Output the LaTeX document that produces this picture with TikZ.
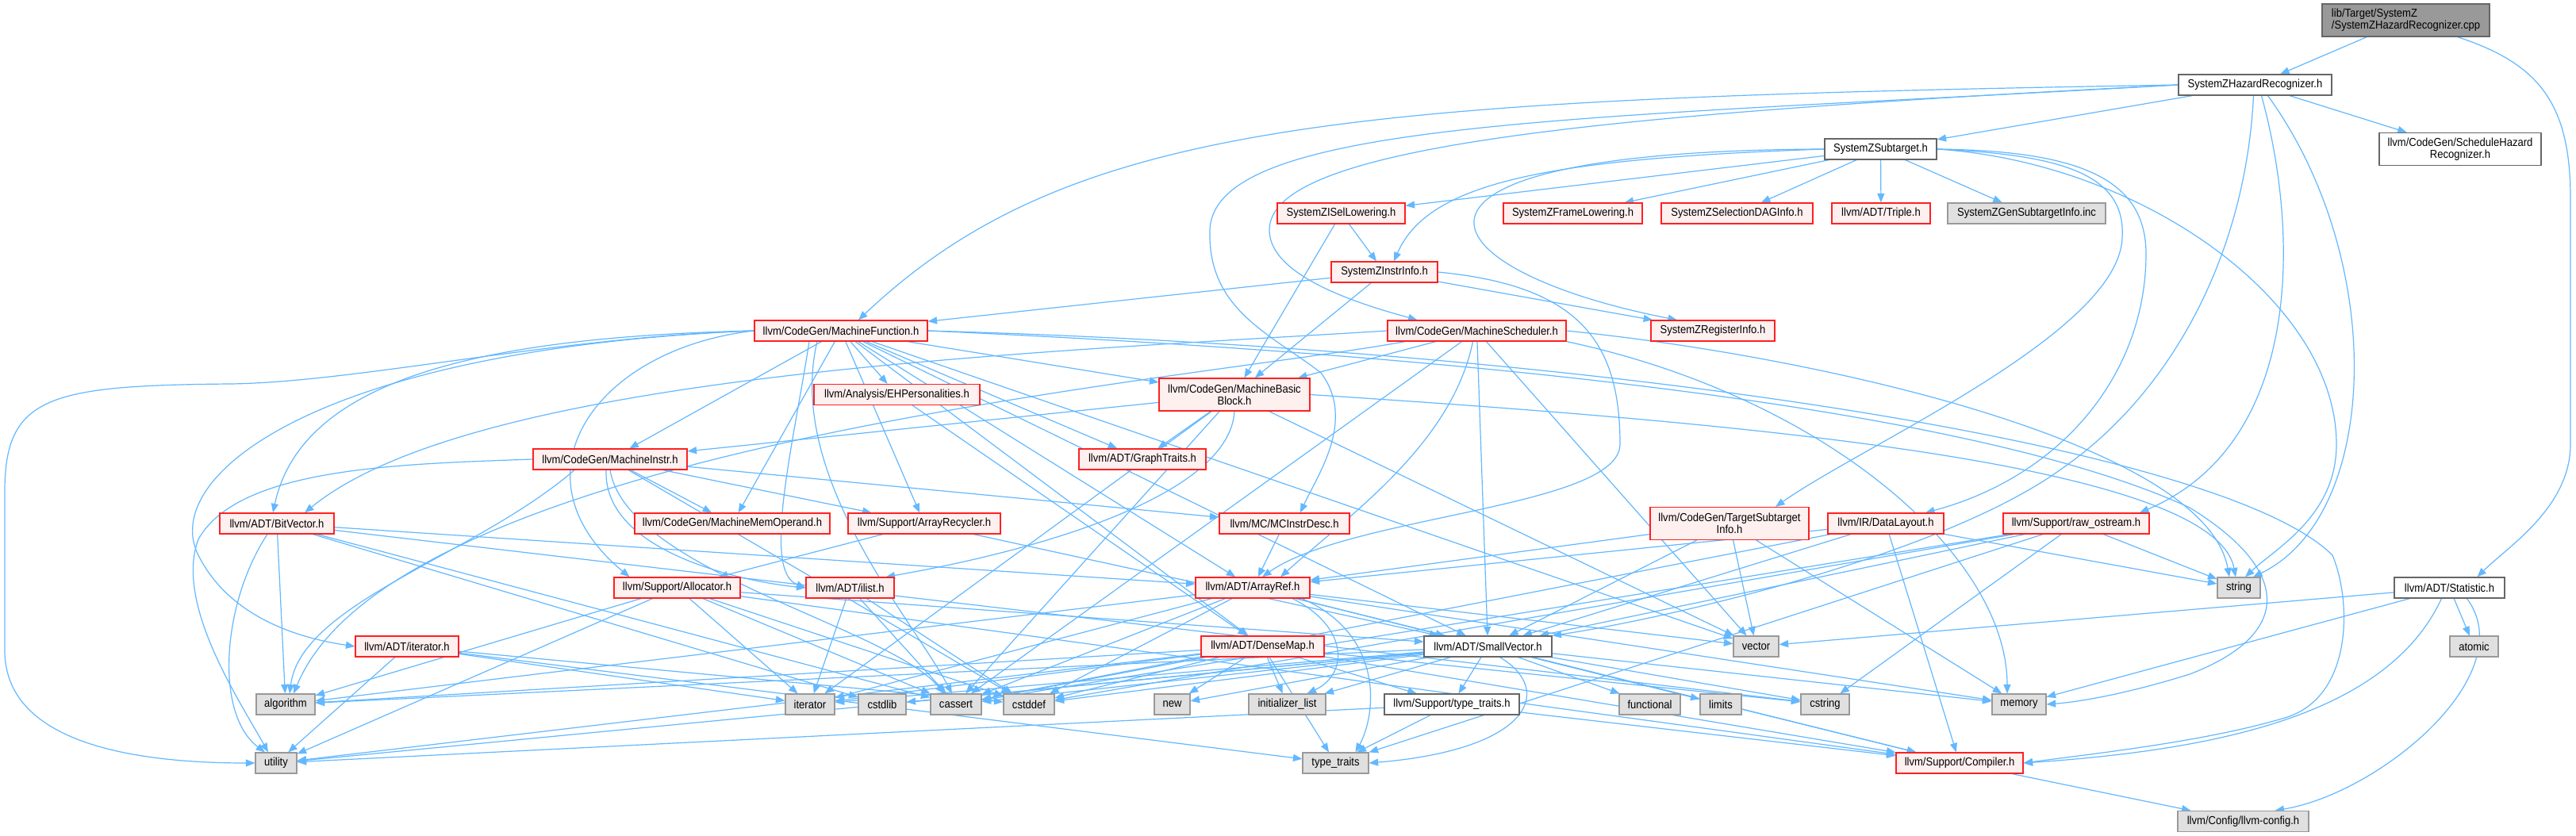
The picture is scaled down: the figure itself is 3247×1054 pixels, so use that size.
\documentclass[tikz,border=0pt]{standalone}
\usepackage{fontspec}
\setmainfont{Liberation Sans}[FakeStretch=0.9]
\usetikzlibrary{arrows.meta}
\pgfdeclarelayer{bg}
\pgfdeclarelayer{edges}
\pgfsetlayers{bg,edges,main}
\definecolor{edgec}{HTML}{63B8FF}
\definecolor{redfill}{HTML}{FFF0F0}
\definecolor{grayfill}{HTML}{E0E0E0}
\definecolor{grayline}{HTML}{999999}
\definecolor{darkline}{HTML}{666666}
\definecolor{rootfill}{HTML}{999999}
\definecolor{redline}{HTML}{FF2020}
\newcommand{\nodefont}{\fontsize{14.5}{15}\selectfont}
\newcommand{\mkbox}[6]{\node[#1, minimum width=#4pt, minimum height=#5pt] (#2) at (#3) {#6};}
\tikzset{
  nbase/.style={rectangle, inner sep=0pt, line width=1.15pt, font=\nodefont, text=black, align=center},
  rednode/.style={nbase, draw=redline, fill=redfill},
  graynode/.style={nbase, draw=grayline, fill=grayfill},
  whitenode/.style={nbase, draw=darkline, fill=white},
  rootnode/.style={nbase, draw=darkline, fill=rootfill},
  dep/.style={draw=edgec, line width=1.2pt, -{Triangle[length=11.5pt,width=9pt]}},
}
\begin{document}
\begin{tikzpicture}[x=1pt,y=-1pt]
\useasboundingbox (0,0) rectangle (3247,1054);
\begin{pgfonlayer}{bg}
\fill[white] (0,0) rectangle (3247,1054);
\end{pgfonlayer}
% nodes
\mkbox{rootnode,align=left}{cpp}{3032.5,25.5}{211}{41}{lib/Target/SystemZ\\/SystemZHazardRecognizer.cpp}
\mkbox{whitenode}{hr}{2842.5,107}{193}{26}{SystemZHazardRecognizer.h}
\mkbox{whitenode}{sub}{2370.5,188}{141}{26}{SystemZSubtarget.h}
\mkbox{whitenode}{shr}{3101,188}{204}{41}{llvm/CodeGen/ScheduleHazard\\Recognizer.h}
\mkbox{rednode}{isel}{1690.5,269}{161}{26}{SystemZISelLowering.h}
\mkbox{rednode}{frame}{1982.5,269}{175}{26}{SystemZFrameLowering.h}
\mkbox{rednode}{dag}{2189.5,269}{191}{26}{SystemZSelectionDAGInfo.h}
\mkbox{rednode}{triple}{2371,269}{124}{26}{llvm/ADT/Triple.h}
\mkbox{graynode}{gen}{2554.5,269}{199}{26}{SystemZGenSubtargetInfo.inc}
\mkbox{rednode}{instr}{1745,343}{134}{26}{SystemZInstrInfo.h}
\mkbox{rednode}{mf}{1060,417}{218}{26}{llvm/CodeGen/MachineFunction.h}
\mkbox{rednode}{ms}{1861.5,417}{225}{26}{llvm/CodeGen/MachineScheduler.h}
\mkbox{rednode}{reg}{2159,417}{156}{26}{SystemZRegisterInfo.h}
\mkbox{rednode}{eh}{1130.5,497.5}{209}{26}{llvm/Analysis/EHPersonalities.h}
\mkbox{rednode}{mbb}{1556,497.5}{190}{41}{llvm/CodeGen/MachineBasic\\Block.h}
\mkbox{rednode}{mi}{769,579}{194}{26}{llvm/CodeGen/MachineInstr.h}
\mkbox{rednode}{gt}{1440,579}{160}{26}{llvm/ADT/GraphTraits.h}
\mkbox{rednode}{bv}{349,660}{144}{26}{llvm/ADT/BitVector.h}
\mkbox{rednode}{mmo}{923,660}{246}{26}{llvm/CodeGen/MachineMemOperand.h}
\mkbox{rednode}{arec}{1165,660}{192}{26}{llvm/Support/ArrayRecycler.h}
\mkbox{rednode}{mcid}{1619,660}{164}{26}{llvm/MC/MCInstrDesc.h}
\mkbox{rednode}{tsi}{2180,660}{200}{41}{llvm/CodeGen/TargetSubtarget\\Info.h}
\mkbox{rednode}{dl}{2377,660}{146}{26}{llvm/IR/DataLayout.h}
\mkbox{rednode}{ros}{2617,660}{184}{26}{llvm/Support/raw\_ostream.h}
\mkbox{rednode}{alloc}{853.5,741}{159}{26}{llvm/Support/Allocator.h}
\mkbox{rednode}{ilist}{1071.5,741}{111}{26}{llvm/ADT/ilist.h}
\mkbox{rednode}{aref}{1579,741}{144}{26}{llvm/ADT/ArrayRef.h}
\mkbox{graynode}{string}{2822,741}{54}{26}{string}
\mkbox{whitenode}{stat}{3087.5,741}{139}{26}{llvm/ADT/Statistic.h}
\mkbox{rednode}{iterh}{513,815}{130}{26}{llvm/ADT/iterator.h}
\mkbox{rednode}{dmap}{1591.5,815}{155}{26}{llvm/ADT/DenseMap.h}
\mkbox{whitenode}{sv}{1875.5,815}{161}{26}{llvm/ADT/SmallVector.h}
\mkbox{graynode}{vector}{2213.5,815}{57}{26}{vector}
\mkbox{graynode}{atomic}{3118.5,815}{61}{26}{atomic}
\mkbox{graynode}{algorithm}{360,888}{74}{26}{algorithm}
\mkbox{graynode}{iterator}{1021,888}{62}{26}{iterator}
\mkbox{graynode}{cstdlib}{1112,888}{60}{26}{cstdlib}
\mkbox{graynode}{cassert}{1205,888}{64}{26}{cassert}
\mkbox{graynode}{cstddef}{1297,888}{64}{26}{cstddef}
\mkbox{graynode}{new}{1477.5,888}{45}{26}{new}
\mkbox{graynode}{initlist}{1622.5,888}{97}{26}{initializer\_list}
\mkbox{whitenode}{stt}{1830,888}{170}{26}{llvm/Support/type\_traits.h}
\mkbox{graynode}{functional}{2079.5,888}{77}{26}{functional}
\mkbox{graynode}{limits}{2169,888}{52}{26}{limits}
\mkbox{graynode}{cstring}{2300.5,888}{61}{26}{cstring}
\mkbox{graynode}{memory}{2545,888}{68}{26}{memory}
\mkbox{graynode}{utility}{348,962}{52}{26}{utility}
\mkbox{graynode}{tt}{1683.5,962}{83}{26}{type\_traits}
\mkbox{rednode}{comp}{2470,962}{160}{26}{llvm/Support/Compiler.h}
\mkbox{graynode}{cfg}{2827.5,1035.5}{165}{26}{llvm/Config/llvm-config.h}
% edges
\begin{pgfonlayer}{edges}
% root
\draw[dep] (cpp) -- (hr);
\draw[dep] ([xshift=65]cpp.south) .. controls (3200,80) and (3240,130) .. (3240,250) -- (3240,560) .. controls (3240,640) and (3160,690) .. ([xshift=35]stat.north);
% SystemZHazardRecognizer.h
\draw[dep] (hr) -- (sub);
\draw[dep] (hr) -- (shr);
\draw[dep] (hr.west) .. controls (1700,125) and (1350,150) .. ([xshift=22]mf.north);
\draw[dep] (hr.west) .. controls (2000,150) and (1530,150) .. (1525,290) .. controls (1522,390) and (1600,420) .. (1665,470) .. controls (1710,530) and (1660,600) .. ([xshift=20]mcid.north);
\draw[dep] (hr.west) .. controls (2000,145) and (1600,185) .. (1600,290) .. controls (1600,350) and (1720,385) .. ([xshift=-75]ms.north);
\draw[dep] ([xshift=-2]hr.south) .. controls (2830,330) and (2730,500) .. (2600,590) .. controls (2450,700) and (2100,780) .. (sv.north east);
\draw[dep] ([xshift=8]hr.south) .. controls (2900,300) and (2900,560) .. ([xshift=80]ros.north);
\draw[dep] ([xshift=16]hr.south) .. controls (3010,330) and (3000,650) .. ([xshift=18]string.north);
% SystemZSubtarget.h
\draw[dep] (sub) -- (isel);
\draw[dep] (sub) -- (frame);
\draw[dep] (sub) -- (dag);
\draw[dep] (sub) -- (triple);
\draw[dep] (sub) -- (gen);
\draw[dep] (sub.west) .. controls (1950,200) and (1800,230) .. ([xshift=12]instr.north);
\draw[dep] (sub.west) .. controls (1700,190) and (1790,340) .. ([xshift=-45]reg.north);
\draw[dep] (sub.east) .. controls (2600,195) and (2680,220) .. (2675,300) .. controls (2670,420) and (2350,560) .. ([xshift=58]tsi.north);
\draw[dep] (sub.east) .. controls (2620,190) and (2705,225) .. (2705,320) .. controls (2705,470) and (2600,600) .. ([xshift=50]dl.north);
\draw[dep] (sub.east) .. controls (2700,205) and (2945,380) .. (2945,560) .. controls (2945,650) and (2870,690) .. ([xshift=8]string.north);
% ISelLowering / InstrInfo
\draw[dep] (isel) -- (instr);
\draw[dep] (isel) -- (mbb);
\draw[dep] (instr) -- (mf);
\draw[dep] (instr) -- (mbb);
\draw[dep] (instr) -- (reg);
\draw[dep] (instr.east) .. controls (1990,360) and (2042,430) .. (2042,560) .. controls (2042,640) and (1700,650) .. ([xshift=12]aref.north);
% MachineFunction.h
\draw[dep] (mf) -- (eh);
\draw[dep] (mf) -- (mbb);
\draw[dep] (mf) -- (mi);
\draw[dep] (mf) -- (gt);
\draw[dep] (mf) -- (mmo);
\draw[dep] (mf) -- (arec);
\draw[dep] (mf) -- (aref);
\draw[dep] (mf) -- (dmap);
\draw[dep] (mf) -- (sv);
\draw[dep] (mf) -- (vector);
\draw[dep] ([xshift=-40]mf.south) .. controls (1000,560) and (960,720) .. (ilist.west);
\draw[dep] (mf.west) .. controls (750,440) and (640,600) .. ([xshift=-60]alloc.north);
\draw[dep] (mf.west) .. controls (600,425) and (380,480) .. ([xshift=-5]bv.north);
\draw[dep] (mf.west) .. controls (400,440) and (200,600) .. (250,700) .. controls (290,780) and (380,805) .. (iterh.west);
\draw[dep] (mf.west) .. controls (700,425) and (450,482) .. (290,484) .. controls (60,486) and (6,500) .. (6,620) -- (6,820) .. controls (6,930) and (150,962) .. (utility.west);
\draw[dep] ([xshift=-30]mf.south) .. controls (990,600) and (1150,780) .. ([xshift=-5]cassert.north);
\draw[dep] (mf.east) .. controls (2000,440) and (2800,560) .. (2940,700) .. controls (2965,760) and (2965,880) .. (2880,905) .. controls (2780,935) and (2640,950) .. (comp.east);
\draw[dep] (mf.east) .. controls (1900,450) and (2500,520) .. (2760,640) .. controls (2890,720) and (2890,800) .. (2760,850) .. controls (2680,875) and (2620,885) .. (memory.east);
% MachineScheduler.h
\draw[dep] (ms) -- (mbb);
\draw[dep] (ms) -- (sv);
\draw[dep] (ms) -- (vector);
\draw[dep] (ms) -- (cassert);
\draw[dep] ([xshift=-5]ms.south) .. controls (1830,560) and (1700,650) .. ([xshift=35]aref.north);
\draw[dep] (ms.south east) .. controls (2300,500) and (2530,700) .. ([xshift=-15]memory.north);
\draw[dep] (ms.east) .. controls (2300,450) and (2780,560) .. ([xshift=-12]string.north);
\draw[dep] (ms.west) .. controls (1300,445) and (600,470) .. ([xshift=35]bv.north);
\draw[dep] ([xshift=-90]ms.south) .. controls (1500,480) and (500,560) .. ([xshift=10]algorithm.north);
% EHPersonalities
\draw[dep] (eh) -- (dmap);
% MachineBasicBlock.h
\draw[dep] (mbb) -- (gt);
\draw[dep] (mbb) -- (mi);
\draw[dep] (mbb) -- (cassert);
\draw[dep] (mbb) -- (iterator);
\draw[dep] (mbb) -- (vector);
\draw[dep] (mbb.south) .. controls (1550,620) and (1330,690) .. ([xshift=45]ilist.north);
\draw[dep] (mbb.east) .. controls (2150,530) and (2790,580) .. ([xshift=-4]string.north);
% MachineInstr.h
\draw[dep] (mi) -- (mmo);
\draw[dep] (mi) -- (arec);
\draw[dep] (mi) -- (mcid);
\draw[dep] (mi) -- (cstddef);
\draw[dep] ([xshift=-5]mi.south) .. controls (760,700) and (950,735) .. (ilist.west);
\draw[dep] ([xshift=-45]mi.south) .. controls (600,700) and (380,760) .. ([xshift=5]algorithm.north);
\draw[dep] (mi.south) .. controls (790,720) and (1120,790) .. ([xshift=-15]cassert.north);
\draw[dep] (mi.west) .. controls (500,585) and (300,590) .. (250,680) .. controls (220,760) and (300,880) .. ([xshift=-10]utility.north);
% BitVector.h
\draw[dep] (bv) -- (aref);
\draw[dep] (bv) -- (cstring);
\draw[dep] (bv) -- (algorithm);
\draw[dep] (bv) -- (cassert);
\draw[dep] (bv) -- (cstdlib);
\draw[dep] ([xshift=-12]bv.south) .. controls (280,760) and (270,900) .. ([xshift=-14]utility.north);
% iterator.h
\draw[dep] (iterh) -- (utility);
\draw[dep] (iterh) -- (iterator);
\draw[dep] (iterh) -- (cstddef);
\draw[dep] (iterh) -- (tt);
% Allocator.h
\draw[dep] (alloc) -- (sv);
\draw[dep] (alloc) -- (comp);
\draw[dep] (alloc) -- (algorithm);
\draw[dep] (alloc) -- (cassert);
\draw[dep] (alloc) -- (cstddef);
\draw[dep] (alloc) -- (iterator);
\draw[dep] (alloc) -- (utility);
% ArrayRecycler, ilist, MCInstrDesc
\draw[dep] (arec) -- (alloc);
\draw[dep] (arec) -- (sv);
\draw[dep] (ilist) -- (iterator);
\draw[dep] (ilist) -- (cassert);
\draw[dep] (ilist) -- (cstddef);
\draw[dep] (mcid) -- (aref);
% ArrayRef.h
\draw[dep] (aref) -- (sv);
\draw[dep] (aref) -- (comp);
\draw[dep] (aref) -- (algorithm);
\draw[dep] (aref) -- (cassert);
\draw[dep] (aref) -- (cstddef);
\draw[dep] (aref) -- (iterator);
\draw[dep] (aref) -- (memory);
\draw[dep] (aref) -- (vector);
\draw[dep] ([xshift=50]aref.south) .. controls (1700,790) and (1700,850) .. ([xshift=25]initlist.north);
\draw[dep] ([xshift=62]aref.south) .. controls (1745,800) and (1735,900) .. ([xshift=25]tt.north);
% DenseMap.h
\draw[dep] (dmap) -- (comp);
\draw[dep] (dmap) -- (stt);
\draw[dep] (dmap) -- (algorithm);
\draw[dep] (dmap) -- (cassert);
\draw[dep] (dmap) -- (cstddef);
\draw[dep] (dmap) -- (cstring);
\draw[dep] (dmap) -- (initlist);
\draw[dep] (dmap) -- (iterator);
\draw[dep] (dmap) -- (new);
\draw[dep] (dmap) -- (tt);
\draw[dep] (dmap) -- (utility);
% SmallVector.h
\draw[dep] (sv) -- (comp);
\draw[dep] (sv) -- (stt);
\draw[dep] (sv) -- (algorithm);
\draw[dep] (sv) -- (cassert);
\draw[dep] (sv) -- (cstddef);
\draw[dep] (sv) -- (cstdlib);
\draw[dep] (sv) -- (iterator);
\draw[dep] (sv) -- (new);
\draw[dep] (sv) -- (initlist);
\draw[dep] (sv) -- (cstring);
\draw[dep] (sv) -- (functional);
\draw[dep] (sv) -- (limits);
\draw[dep] (sv) -- (memory);
\draw[dep] (sv) -- (utility);
\draw[dep] ([xshift=15]sv.south) .. controls (1960,870) and (1930,945) .. (tt.east);
% type_traits.h
\draw[dep] (stt) -- (comp);
\draw[dep] (stt) -- (tt);
\draw[dep] (stt) -- (utility);
% TargetSubtargetInfo, DataLayout, raw_ostream
\draw[dep] (tsi) -- (aref);
\draw[dep] (tsi) -- (sv);
\draw[dep] (tsi) -- (memory);
\draw[dep] (tsi) -- (vector);
\draw[dep] (dl) -- (aref);
\draw[dep] (dl) -- (sv);
\draw[dep] (dl) -- (comp);
\draw[dep] (dl) -- (cassert);
\draw[dep] (dl) -- (string);
\draw[dep] (ros) -- (sv);
\draw[dep] (ros) -- (cassert);
\draw[dep] (ros) -- (cstddef);
\draw[dep] (ros) -- (cstring);
\draw[dep] (ros) -- (tt);
\draw[dep] (ros) -- (string);
% Statistic.h
\draw[dep] (stat) -- (atomic);
\draw[dep] (stat) -- (memory);
\draw[dep] (stat) -- (vector);
\draw[dep] ([xshift=-10]stat.south) .. controls (3010,900) and (2800,945) .. (comp.east);
\draw[dep] ([xshift=22]stat.south) .. controls (3180,850) and (3000,1000) .. ([xshift=40]cfg.north);
% Compiler.h
\draw[dep] (comp) -- (cfg);
\end{pgfonlayer}
\end{tikzpicture}
\end{document}
